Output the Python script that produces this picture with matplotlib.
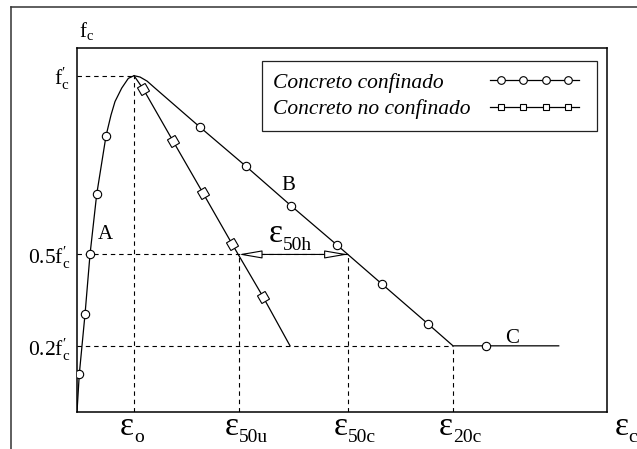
import matplotlib
matplotlib.use("Agg")
import matplotlib.pyplot as plt
from matplotlib.lines import Line2D
from matplotlib.legend_handler import HandlerLine2D

plt.rcParams['font.family'] = ['Liberation Serif', 'DejaVu Serif']
plt.rcParams['mathtext.fontset'] = 'custom'
plt.rcParams['mathtext.rm'] = 'Liberation Serif'
plt.rcParams['mathtext.it'] = 'Liberation Serif:italic'

## strain in units of 1e-3 (eps_o = 2), stress as a fraction of f'c
conf_strain = [0.0, 0.081, 0.281, 0.456, 0.691, 1.018, 1.193, 1.333, 1.568, 1.800,
               2.000, 2.211, 2.456, 2.737, 4.326, 5.919, 7.509, 9.123, 10.712,
               12.305, 13.193, 14.340, 16.902]
conf_stress = [0.0, 0.113, 0.290, 0.468, 0.647, 0.821, 0.883, 0.923, 0.963, 0.992,
               1.000, 0.996, 0.984, 0.963, 0.846, 0.731, 0.613, 0.496, 0.379,
               0.262, 0.196, 0.196, 0.196]
conf_marks = [1, 2, 3, 4, 5, 14, 15, 16, 17, 18, 19, 21]

unconf_strain = [2.000, 2.326, 3.358, 4.411, 5.449, 6.526, 7.474]
unconf_stress = [1.000, 0.960, 0.807, 0.652, 0.498, 0.342, 0.196]
unconf_marks = [1, 2, 3, 4, 5]

eps_o = 2.0
eps_50u = 5.67
eps_50c = 9.51
eps_20c = 13.19
lvl_peak = 1.0
lvl_50 = 0.468
lvl_20 = 0.196

ytick_labels = [r"$\mathrm{0.2f}_\mathrm{c}^{\prime}$",
                r"$\mathrm{0.5f}_\mathrm{c}^{\prime}$",
                r"$\mathrm{f}_\mathrm{c}^{\prime}$"]
legend_labels = ['Concreto confinado', 'Concreto no confinado']
LEG_SIZE = 15.5


class ShiftedLine(HandlerLine2D):
    # moves the sample line to the right (points), so that all samples end at the same x
    def __init__(self, shift=0.0, **kw):
        super().__init__(**kw)
        self.shift = shift

    def create_artists(self, legend, orig_handle, xdescent, ydescent, width, height, fontsize, trans):
        return super().create_artists(legend, orig_handle, xdescent - self.shift, ydescent,
                                      width, height, fontsize, trans)


fig = plt.figure(figsize=(6.37, 4.49), dpi=100)
ax = fig.add_axes([0.1209, 0.0831, 0.832, 0.810])

# outer frame (only top and left edges visible)
fig.add_artist(Line2D([11/637, 11/637], [0, 1 - 7/449], transform=fig.transFigure,
                      color='#333333', lw=1.1))
fig.add_artist(Line2D([11/637, 1], [1 - 7/449, 1 - 7/449], transform=fig.transFigure,
                      color='#333333', lw=1.1))

dash = dict(color='black', lw=0.8, ls=(0, (4, 3.5)), zorder=1)
ax.plot([0, eps_o], [lvl_peak, lvl_peak], **dash)
ax.plot([eps_o, eps_o], [0, lvl_peak], **dash)
ax.plot([0, eps_50c], [lvl_50, lvl_50], **dash)
ax.plot([eps_50u, eps_50u], [0, lvl_50], **dash)
ax.plot([eps_50c, eps_50c], [0, lvl_50], **dash)
ax.plot([0, eps_20c], [lvl_20, lvl_20], **dash)
ax.plot([eps_20c, eps_20c], [0, lvl_20], **dash)

ax.plot(conf_strain, conf_stress, color='black', lw=0.9, marker='o', ms=6.0,
        mfc='white', mec='black', mew=0.8, markevery=conf_marks, zorder=3)
ax.plot(unconf_strain, unconf_stress, color='black', lw=0.9, marker=(4, 0, -15), ms=9.0,
        mfc='white', mec='black', mew=0.8, markevery=unconf_marks, zorder=3)

# eps_50h arrow
ax.annotate('', xy=(eps_50u, lvl_50), xytext=(eps_50c, lvl_50),
            arrowprops=dict(arrowstyle='<|-|>,head_length=1.45,head_width=0.25',
                            mutation_scale=10, fc='white', ec='black', lw=0.8,
                            shrinkA=0, shrinkB=0), zorder=4)

ax.set_xlim(0, 18.596)
ax.set_ylim(0, 1.0824)
ax.set_xticks([])
ax.set_yticks([lvl_20, lvl_50, lvl_peak], labels=ytick_labels)
ax.tick_params(axis='y', length=0, pad=5, labelsize=15.5)
for s in ax.spines.values():
    s.set_linewidth(1.1)


def eps_label(x, sub, coords=('data', 'axes fraction'), y=0, base=-16.8, sub_base=-21.8):
    ax.annotate('ε', xy=(x, y), xycoords=coords, xytext=(0, base), textcoords='offset points',
                ha='right', va='baseline', fontsize=24, annotation_clip=False)
    ax.annotate(sub, xy=(x, y), xycoords=coords, xytext=(0, sub_base), textcoords='offset points',
                ha='left', va='baseline', fontsize=14, annotation_clip=False)


eps_label(eps_o, 'o')
eps_label(eps_50u, '50u')
eps_label(eps_50c, '50c')
eps_label(eps_20c, '20c')
eps_label(1.041, 'c', coords='axes fraction')
eps_label(7.23, '50h', coords='data', y=lvl_50, base=8.9, sub_base=3.1)

ax.text(0.98, 0.514, 'A', ha='center', va='baseline', fontsize=15)
ax.text(7.42, 0.660, 'B', ha='center', va='baseline', fontsize=15)
ax.text(15.25, 0.2045, 'C', ha='center', va='baseline', fontsize=15)
ax.text(0.004, 1.030, r'$\mathrm{f}_\mathrm{c}$', transform=ax.transAxes,
        ha='left', va='baseline', fontsize=15)

# width difference of the two labels, to line up the sample lines on the right
renderer = fig.canvas.get_renderer()
widths = []
for lab in legend_labels:
    t = fig.text(0, 0, lab, fontsize=LEG_SIZE, style='italic')
    widths.append(t.get_window_extent(renderer).width * 72 / fig.dpi)
    t.remove()

handles = [Line2D([], [], color='black', lw=0.9, marker='o', ms=5.5, mfc='white',
                  mec='black', mew=0.8),
           Line2D([], [], color='black', lw=0.9, marker='s', ms=5.0, mfc='white',
                  mec='black', mew=0.8)]
leg = ax.legend(handles, legend_labels, loc='upper right', bbox_to_anchor=(0.981, 0.964),
                borderaxespad=0, markerfirst=False, numpoints=9, handlelength=4.7,
                handletextpad=0.6, prop={'style': 'italic', 'size': LEG_SIZE}, fancybox=False,
                framealpha=1, edgecolor='#222222', labelspacing=0.28, borderpad=0.55,
                handler_map={handles[0]: ShiftedLine(shift=widths[1] - widths[0])})
leg.get_frame().set_linewidth(0.9)
for col in leg._legend_handle_box.get_children():
    col.align = 'left'
for line in leg.get_lines():
    line.set_markevery([1, 3, 5, 7])

fig.savefig('out.png', dpi=100)
